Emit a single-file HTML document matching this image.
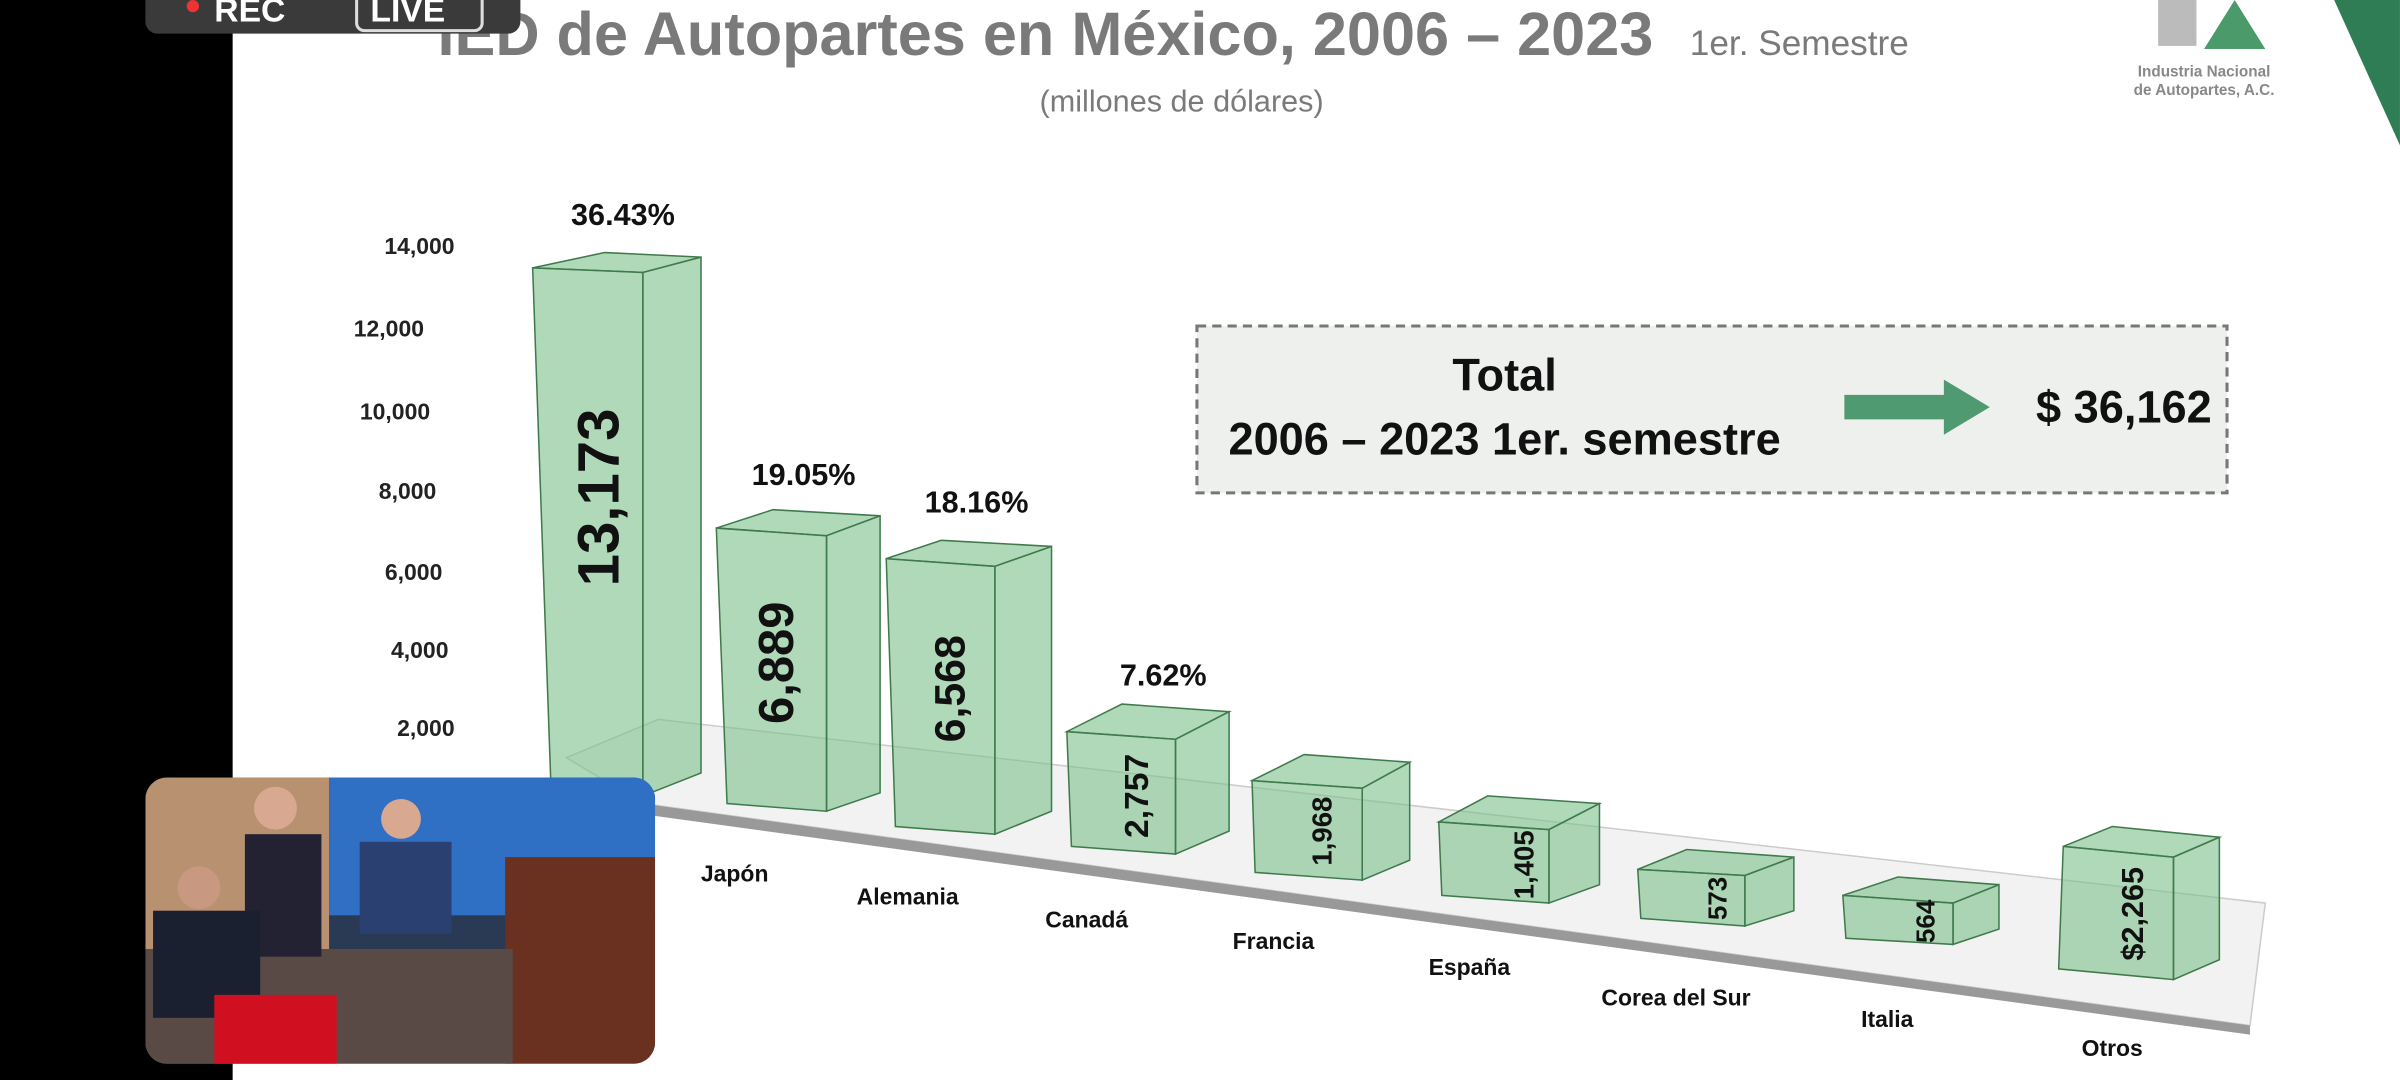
<!DOCTYPE html>
<html><head><meta charset="utf-8"><style>
html,body{margin:0;padding:0;background:#fff;overflow:hidden}
#w{width:1568px;height:706px;transform:scale(1.5306);transform-origin:0 0;position:relative;font-family:"Liberation Sans",sans-serif}
svg text{font-family:"Liberation Sans",sans-serif}
</style></head><body><div id="w">
<svg width="1568" height="706" viewBox="0 0 1568 706" xmlns="http://www.w3.org/2000/svg">
<rect width="1568" height="706" fill="#fff"/>
<rect x="0" y="0" width="152" height="706" fill="#000"/>
<text x="683" y="36" font-size="40" font-weight="bold" fill="#7a7a7a" text-anchor="middle">IED de Autopartes en México, 2006 – 2023</text>
<text x="1104" y="36" font-size="23" fill="#7a7a7a">1er. Semestre</text>
<text x="772" y="73" font-size="20" fill="#7a7a7a" text-anchor="middle">(millones de dólares)</text>
<rect x="95" y="-10" width="245" height="32" rx="8" fill="#3a3a3a"/>
<circle cx="126" cy="4" r="4" fill="#e33"/>
<text x="140" y="14" font-size="22" font-weight="bold" fill="#fff">REC</text>
<rect x="233" y="-6" width="82" height="26" rx="5" fill="none" stroke="#ddd" stroke-width="2"/>
<text x="242" y="14" font-size="22" font-weight="bold" fill="#fff">LIVE</text>
<rect x="1410" y="0" width="25" height="30" fill="#bbb"/>
<polygon points="1440,32 1460,0 1480,32" fill="#4a9a6a"/>
<text x="1440" y="50" font-size="10" font-weight="bold" fill="#888" text-anchor="middle">Industria Nacional</text>
<text x="1440" y="62" font-size="10" font-weight="bold" fill="#888" text-anchor="middle">de Autopartes, A.C.</text>
<polygon points="1525,0 1568,0 1568,95" fill="#2e7d55"/>
<g font-size="15" font-weight="bold" fill="#222" text-anchor="end">
<text x="297" y="166">14,000</text><text x="277" y="220">12,000</text><text x="281" y="274">10,000</text>
<text x="285" y="326">8,000</text><text x="289" y="379">6,000</text><text x="293" y="430">4,000</text><text x="297" y="481">2,000</text>
</g>
<polygon points="370,495 430,470 1480,590 1470,670 420,525" fill="#f2f2f2" stroke="#ccc"/>
<polygon points="420,525 1470,670 1470,676 420,532" fill="#999"/>
<g fill="#7cc08a" fill-opacity="0.6" stroke="#3f7a4c" stroke-width="1">
<polygon points="348,175 395,165 458,168 420,178"/><polygon points="420,178 458,168 458,505 420,520"/><polygon points="348,175 420,178 420,520 360,515"/>
<polygon points="468,345 505,333 575,337 540,350"/><polygon points="540,350 575,337 575,518 540,530"/><polygon points="468,345 540,350 540,530 475,525"/>
<polygon points="579,365 615,353 687,357 650,370"/><polygon points="650,370 687,357 687,530 650,545"/><polygon points="579,365 650,370 650,545 585,540"/>
<polygon points="697,478 733,460 803,465 768,483"/><polygon points="768,483 803,465 803,543 768,558"/><polygon points="697,478 768,483 768,558 700,553"/>
<polygon points="818,510 852,493 921,498 890,515"/><polygon points="890,515 921,498 921,562 890,575"/><polygon points="818,510 890,515 890,575 820,570"/>
<polygon points="940,537 972,520 1045,525 1012,542"/><polygon points="1012,542 1045,525 1045,578 1012,590"/><polygon points="940,537 1012,542 1012,590 942,585"/>
<polygon points="1070,568 1102,555 1172,560 1140,572"/><polygon points="1140,572 1172,560 1172,595 1140,605"/><polygon points="1070,568 1140,572 1140,605 1072,600"/>
<polygon points="1204,585 1240,573 1306,578 1276,590"/><polygon points="1276,590 1306,578 1306,607 1276,617"/><polygon points="1204,585 1276,590 1276,617 1206,613"/>
<polygon points="1348,553 1380,540 1450,547 1420,560"/><polygon points="1420,560 1450,547 1450,627 1420,640"/><polygon points="1348,553 1420,560 1420,640 1345,633"/>
</g>
<g font-weight="bold" fill="#111" text-anchor="middle">
<text font-size="38" transform="translate(404,325) rotate(-90)">13,173</text>
<text font-size="32" transform="translate(518,433) rotate(-90)">6,889</text>
<text font-size="28" transform="translate(630,450) rotate(-90)">6,568</text>
<text font-size="22" transform="translate(750,520) rotate(-90)">2,757</text>
<text font-size="18" transform="translate(870,543) rotate(-90)">1,968</text>
<text font-size="18" transform="translate(1002,565) rotate(-90)">1,405</text>
<text font-size="17" transform="translate(1128,587) rotate(-90)">573</text>
<text font-size="17" transform="translate(1264,602) rotate(-90)">564</text>
<text font-size="20" transform="translate(1400,597) rotate(-90)">$2,265</text>
<g font-size="20"><text x="407" y="147">36.43%</text><text x="525" y="317">19.05%</text><text x="638" y="335">18.16%</text><text x="760" y="448">7.62%</text></g>
<g font-size="15"><text x="480" y="576">Japón</text><text x="593" y="591">Alemania</text><text x="710" y="606">Canadá</text><text x="832" y="620">Francia</text><text x="960" y="637">España</text><text x="1095" y="657">Corea del Sur</text><text x="1233" y="671">Italia</text><text x="1380" y="690">Otros</text></g>
</g>
<rect x="782" y="213" width="673" height="109" fill="#eef0ee" stroke="#777" stroke-width="2" stroke-dasharray="6,4"/>
<g font-weight="bold" fill="#111" font-size="29.5">
<text x="983" y="255" text-anchor="middle">Total</text>
<text x="983" y="297" text-anchor="middle">2006 – 2023 1er. semestre</text>
<text x="1445" y="276" text-anchor="end">$ 36,162</text>
</g>
<polygon points="1205,258 1270,258 1270,248 1300,266 1270,284 1270,274 1205,274" fill="#4f9a70"/>
<clipPath id="v"><rect x="95" y="508" width="333" height="187" rx="14"/></clipPath>
<g clip-path="url(#v)">
<rect x="95" y="508" width="333" height="187" fill="#2a3a55"/>
<rect x="95" y="508" width="120" height="187" fill="#b89270"/>
<rect x="215" y="508" width="213" height="90" fill="#2f6fc4"/>
<rect x="330" y="560" width="98" height="135" fill="#6a3020"/>
<rect x="95" y="620" width="240" height="75" fill="#5a4a45"/>
<circle cx="180" cy="528" r="14" fill="#d8a890"/><rect x="160" y="545" width="50" height="80" fill="#223"/>
<circle cx="262" cy="535" r="13" fill="#d8a890"/><rect x="235" y="550" width="60" height="60" fill="#2a4070"/>
<circle cx="130" cy="580" r="14" fill="#c89880"/><rect x="100" y="595" width="70" height="70" fill="#1a2030"/>
<rect x="140" y="650" width="80" height="45" fill="#d01020"/>
</g>
</svg>
</div></body></html>
